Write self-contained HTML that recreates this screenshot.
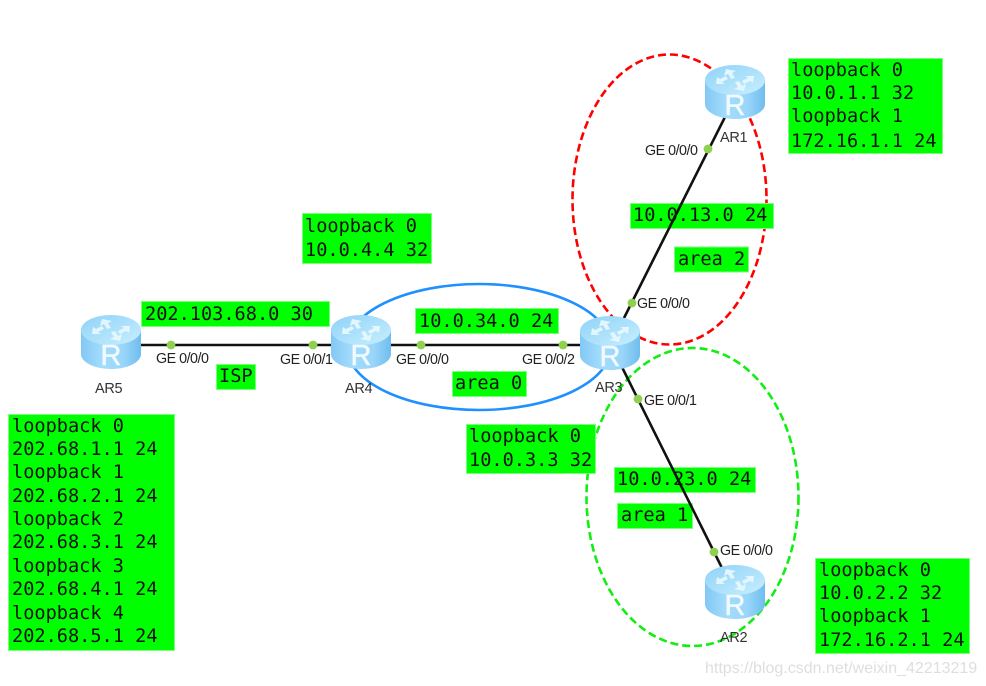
<!DOCTYPE html>
<html><head><meta charset="utf-8"><style>
html,body{margin:0;padding:0;background:#fff}
svg{display:block;filter:blur(.3px)}
.b{fill:#00ff00;stroke:#7dff7d;stroke-width:1}
.t{font:18.6px "DejaVu Sans Mono",monospace;fill:#111}
.g{font:14.3px "Liberation Sans",sans-serif;fill:#222;letter-spacing:-.5px}
.a{font:14.5px "Liberation Sans",sans-serif;fill:#333;letter-spacing:-.3px}
.d{fill:#8fd14f}
</style></head><body>
<svg width="986" height="686" viewBox="0 0 986 686" xmlns="http://www.w3.org/2000/svg">
<defs>
<linearGradient id="s" x1="0" x2="1" y1="0" y2="0"><stop offset="0" stop-color="#82c8f4"/><stop offset=".35" stop-color="#a4dcfb"/><stop offset=".7" stop-color="#9ad6fa"/><stop offset="1" stop-color="#6fbdee"/></linearGradient>
<linearGradient id="u" x1="0" x2="1" y1="0" y2="1"><stop offset="0" stop-color="#8fd2f8"/><stop offset="1" stop-color="#c8effe"/></linearGradient>
<g id="r">
<path d="M0 15V39C0 47 13 54 30 54S60 47 60 39V15Z" fill="url(#s)"/>
<ellipse cx="30" cy="15" rx="30" ry="15" fill="url(#u)"/>
<g fill="#e8f8ff" opacity=".9">
<path d="M21 4l10 2-4 2 3 5-4 1-3-5-4 2zM49 11l-1 7-3-2-6 3-2-3 6-3-3-2zM39 26l-10-2 4-2-3-5 4-1 3 5 4-2zM11 19l1-7 3 2 6-3 2 3-6 3 3 2z"/>
</g>
<text x="30" y="50" text-anchor="middle" font-family="Liberation Sans,sans-serif" font-size="29" fill="#f0faff" stroke="#f0faff" stroke-width=".5">R</text>
</g>
</defs>

<ellipse cx="669.5" cy="199.5" rx="97" ry="145" fill="none" stroke="#ff0000" stroke-width="2.6" stroke-dasharray="8 4"/>
<ellipse cx="692.5" cy="497" rx="106" ry="149" fill="none" stroke="#11ee11" stroke-width="2.6" stroke-dasharray="8 4"/>
<ellipse cx="479" cy="347" rx="132" ry="63" fill="none" stroke="#1e90ff" stroke-width="2.6"/>

<g class="b">
<rect x="788.5" y="58.5" width="154" height="95"/>
<rect x="302.5" y="213.5" width="129" height="50"/>
<rect x="141.5" y="301.5" width="188" height="25"/>
<rect x="415.5" y="308.5" width="143" height="25"/>
<rect x="630.5" y="203.5" width="143" height="25"/>
<rect x="674.5" y="247" width="74" height="25"/>
<rect x="216.5" y="364.5" width="39" height="25"/>
<rect x="452.5" y="371.5" width="74" height="25"/>
<rect x="466.5" y="424.5" width="129" height="49"/>
<rect x="614.5" y="467.5" width="141" height="25"/>
<rect x="617.5" y="503.5" width="75" height="25"/>
<rect x="8.5" y="414.5" width="166" height="236"/>
<rect x="815.5" y="558.5" width="154" height="95"/>
</g>

<g stroke="#111" stroke-width="2.6" fill="none">
<path d="M135 345H335M385 345H585M623 320L726 115M606 335L724 572"/>
</g>

<use href="#r" x="81" y="315"/>
<use href="#r" x="331" y="315"/>
<use href="#r" x="580" y="316"/>
<use href="#r" x="705" y="65"/>
<use href="#r" x="705" y="565"/>

<g class="d">
<circle cx="171" cy="345" r="4.4"/><circle cx="313" cy="345" r="4.4"/><circle cx="421" cy="345" r="4.4"/><circle cx="563" cy="345" r="4.4"/>
<circle cx="708" cy="149" r="4.4"/><circle cx="632" cy="303" r="4.4"/><circle cx="638" cy="399" r="4.4"/><circle cx="714" cy="552" r="4.4"/>
</g>

<g class="t">
<text x="791" y="76">loopback 0</text><text x="791" y="99">10.0.1.1 32</text><text x="791" y="122">loopback 1</text><text x="791" y="147">172.16.1.1 24</text>
<text x="305" y="232">loopback 0</text><text x="305" y="256">10.0.4.4 32</text>
<text x="145" y="320">202.103.68.0 30</text>
<text x="419" y="327">10.0.34.0 24</text>
<text x="633" y="221">10.0.13.0 24</text>
<text x="678" y="265">area 2</text>
<text x="219" y="382">ISP</text>
<text x="455" y="389">area 0</text>
<text x="469" y="442">loopback 0</text><text x="469" y="466">10.0.3.3 32</text>
<text x="617" y="485">10.0.23.0 24</text>
<text x="621" y="521">area 1</text>
<text x="12" y="432">loopback 0</text><text x="12" y="455">202.68.1.1 24</text><text x="12" y="478">loopback 1</text><text x="12" y="502">202.68.2.1 24</text><text x="12" y="525">loopback 2</text><text x="12" y="548">202.68.3.1 24</text><text x="12" y="572">loopback 3</text><text x="12" y="595">202.68.4.1 24</text><text x="12" y="619">loopback 4</text><text x="12" y="642">202.68.5.1 24</text>
<text x="819" y="576">loopback 0</text><text x="819" y="599">10.0.2.2 32</text><text x="819" y="622">loopback 1</text><text x="819" y="646">172.16.2.1 24</text>
</g>

<g class="g">
<text x="156" y="363">GE 0/0/0</text>
<text x="280" y="364">GE 0/0/1</text>
<text x="396" y="364">GE 0/0/0</text>
<text x="522" y="364">GE 0/0/2</text>
<text x="645" y="155">GE 0/0/0</text>
<text x="637" y="308">GE 0/0/0</text>
<text x="644" y="405">GE 0/0/1</text>
<text x="720" y="555">GE 0/0/0</text>
</g>
<g class="a">
<text x="95" y="393">AR5</text>
<text x="345" y="393">AR4</text>
<text x="595" y="392">AR3</text>
<text x="720" y="142">AR1</text>
<text x="720" y="642">AR2</text>
</g>
<text x="705" y="673" font-family="Liberation Sans,sans-serif" font-size="16" fill="#dedede">https://blog.csdn.net/weixin_42213219</text>
</svg>
</body></html>
